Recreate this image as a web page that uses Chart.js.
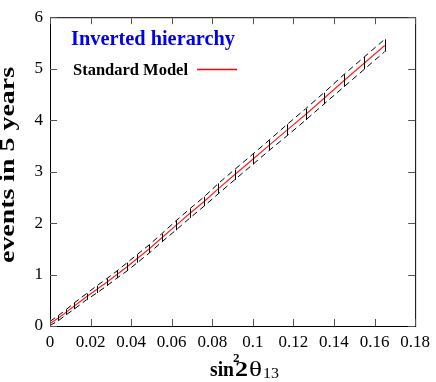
<!DOCTYPE html>
<html>
<head>
<meta charset="utf-8">
<script src="https://cdn.jsdelivr.net/npm/chart.js@4"></script>
<style>
  html, body { margin: 0; padding: 0; background: #fff; }
  #wrap { width: 436px; height: 382px; }
</style>
</head>
<body>
<div id="wrap"><canvas id="plot" width="436" height="382"></canvas></div>
<script>
// sin^2 2theta13 values where the error bars sit
let s2t = [0, 0.004, 0.008, 0.012, 0.018, 0.023, 0.028, 0.033, 0.038, 0.043, 0.049, 0.055, 0.062,
           0.069, 0.076, 0.083, 0.091, 0.1, 0.108, 0.117, 0.126, 0.135, 0.145, 0.155, 0.165];
// Standard Model (red)
let sm_events = [0.05, 0.15, 0.27, 0.39, 0.57, 0.71, 0.85, 1.0, 1.15, 1.31, 1.5, 1.71, 1.95,
                 2.19, 2.42, 2.67, 2.94, 3.24, 3.51, 3.81, 4.11, 4.42, 4.77, 5.11, 5.45];
// dashed band
let band_hi = [0.09, 0.20, 0.32, 0.45, 0.63, 0.78, 0.92, 1.07, 1.23, 1.39, 1.58, 1.79, 2.04,
               2.28, 2.51, 2.77, 3.04, 3.34, 3.61, 3.92, 4.22, 4.53, 4.89, 5.23, 5.57];
let band_lo = [0.01, 0.10, 0.22, 0.33, 0.51, 0.64, 0.78, 0.93, 1.07, 1.23, 1.42, 1.63, 1.86,
               2.10, 2.33, 2.57, 2.84, 3.14, 3.41, 3.70, 4.00, 4.31, 4.65, 4.99, 5.33];
let x_ticks = [0, 0.02, 0.04, 0.06, 0.08, 0.1, 0.12, 0.14, 0.16, 0.18];
let y_ticks = [0, 1, 2, 3, 4, 5, 6];

const serif = "'Liberation Serif', 'DejaVu Serif', serif";

function pts(ys) {
    let out = [];
    for (let i = 0; i < s2t.length; i++) out.push({x: s2t[i], y: ys[i]});
    return out;
}

// draw text stretched sideways to a given width (the original font is a wide one)
function wideText(ctx, txt, x, y, w) {
    let m = ctx.measureText(txt).width;
    ctx.save();
    ctx.translate(x, y);
    ctx.scale(w / m, 1);
    ctx.fillText(txt, 0, 0);
    ctx.restore();
}

// frame, inward ticks on all sides, error bars, legend and axis titles
const decor = {
    id: 'decor',
    afterDatasetsDraw(chart) {
        let ctx = chart.ctx;
        let a = chart.chartArea;
        let xs = chart.scales.x, ys = chart.scales.y;
        ctx.save();
        ctx.setLineDash([]);
        // error bars
        ctx.strokeStyle = '#000';
        ctx.lineWidth = 1;
        for (let i = 0; i < s2t.length; i++) {
            let px = Math.round(xs.getPixelForValue(s2t[i])) + 0.5;
            ctx.beginPath();
            ctx.moveTo(px, ys.getPixelForValue(band_hi[i]));
            ctx.lineTo(px, ys.getPixelForValue(band_lo[i]));
            ctx.stroke();
        }
        // frame
        ctx.strokeStyle = '#000';
        ctx.lineWidth = 1;
        ctx.strokeRect(a.left + 0.5, a.top + 0.5, a.right - a.left, a.bottom - a.top);
        // ticks
        ctx.strokeStyle = '#555';
        let tl = 7;
        x_ticks.forEach(v => {
            let px = Math.round(xs.getPixelForValue(v)) + 0.5;
            ctx.beginPath();
            ctx.moveTo(px, a.bottom); ctx.lineTo(px, a.bottom - tl);
            ctx.moveTo(px, a.top); ctx.lineTo(px, a.top + tl);
            ctx.stroke();
        });
        y_ticks.forEach(v => {
            let py = Math.round(ys.getPixelForValue(v)) + 0.5;
            ctx.beginPath();
            ctx.moveTo(a.left, py); ctx.lineTo(a.left + tl, py);
            ctx.moveTo(a.right, py); ctx.lineTo(a.right - tl, py);
            ctx.stroke();
        });
        // legend
        ctx.textBaseline = 'alphabetic';
        ctx.textAlign = 'left';
        ctx.fillStyle = '#0000ee';
        ctx.font = 'bold 21px ' + serif;
        wideText(ctx, 'Inverted hierarchy', 71, 45, 164);
        ctx.fillStyle = '#000';
        ctx.font = 'bold 16px ' + serif;
        wideText(ctx, 'Standard Model', 73, 75, 115);
        ctx.strokeStyle = '#ff0000';
        ctx.lineWidth = 1.3;
        ctx.beginPath();
        ctx.moveTo(197, 69.5); ctx.lineTo(237, 69.5);
        ctx.stroke();
        // y title
        ctx.save();
        ctx.translate(14, 263);
        ctx.rotate(-Math.PI / 2);
        ctx.fillStyle = '#000';
        ctx.font = 'bold 20px ' + serif;
        wideText(ctx, 'events in 5 years', 0, 0, 196);
        ctx.restore();
        // x title: sin²2θ₁₃
        ctx.fillStyle = '#000';
        let x0 = 210, base = 376;
        ctx.font = 'bold 21px ' + serif;
        wideText(ctx, 'sin', x0, base, 24);
        ctx.font = 'bold 13px ' + serif;
        ctx.fillText('2', x0 + 23, base - 14);
        ctx.font = 'bold 21px ' + serif;
        wideText(ctx, '2', x0 + 25, base, 13);
        ctx.font = '20px ' + serif;
        wideText(ctx, 'θ', x0 + 39, base, 13);
        ctx.font = '15px ' + serif;
        wideText(ctx, '13', x0 + 53, base + 2, 16);
        ctx.restore();
    }
};

let chart = new Chart(document.getElementById('plot'), {
    type: 'line',
    data: {
        datasets: [
            {
                label: 'upper',
                data: pts(band_hi),
                borderColor: '#000',
                borderWidth: 1,
                borderDash: [6, 4],
                pointRadius: 0,
                fill: false,
                tension: 0
            },
            {
                label: 'lower',
                data: pts(band_lo),
                borderColor: '#000',
                borderWidth: 1,
                borderDash: [6, 4],
                pointRadius: 0,
                fill: false,
                tension: 0
            },
            {
                label: 'Standard Model',
                data: pts(sm_events),
                borderColor: '#ff2020',
                borderWidth: 1.2,
                pointRadius: 0,
                fill: false,
                tension: 0
            }
        ]
    },
    options: {
        responsive: false,
        animation: false,
        layout: { padding: { top: 10, right: 18, left: 0, bottom: 0 } },
        plugins: { legend: { display: false }, tooltip: { enabled: false } },
        scales: {
            x: {
                type: 'linear',
                min: 0, max: 0.18,
                afterFit(s) { s.height = 56; },
                afterBuildTicks(s) { s.ticks = x_ticks.map(v => ({value: v})); },
                grid: { display: false, drawTicks: false },
                border: { display: false },
                ticks: {
                    padding: 6,
                    color: '#000',
                    font: { family: serif, size: 17 },
                    callback: v => String(Math.round(v * 100) / 100)
                }
            },
            y: {
                type: 'linear',
                min: 0, max: 6,
                afterFit(s) { s.width = 50; },
                afterBuildTicks(s) { s.ticks = y_ticks.map(v => ({value: v})); },
                grid: { display: false, drawTicks: false },
                border: { display: false },
                ticks: {
                    padding: 7,
                    color: '#000',
                    font: { family: serif, size: 17 }
                }
            }
        }
    },
    plugins: [decor]
});
</script>
</body>
</html>
